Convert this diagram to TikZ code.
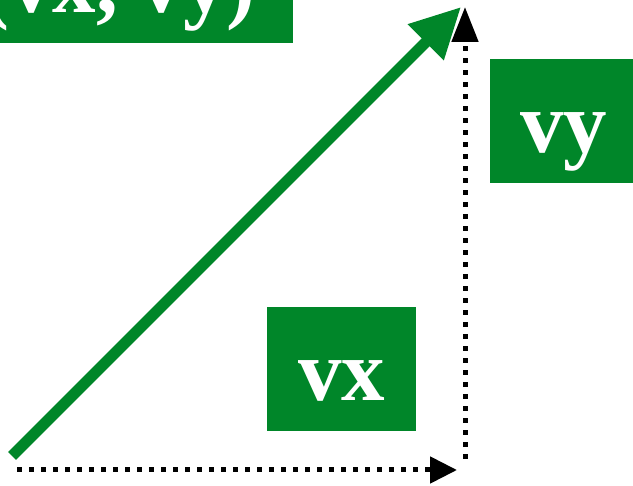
\documentclass[tikz,border=0pt]{standalone}
\usepackage{fontspec}
\setmainfont{Liberation Serif}
\usepackage{xcolor}
\usepackage{tikz}
\usetikzlibrary{arrows.meta}
\definecolor{vecgreen}{HTML}{008629}

\begin{document}
\begin{tikzpicture}[x=1pt, y=-1pt,
    labelbox/.style={fill=vecgreen, text=white, inner sep=0pt, anchor=base,
        font=\fontsize{87}{90}\selectfont\bfseries, text height=94pt, text depth=30pt},
    compline/.style={draw=black, line width=5pt, dash pattern=on 5pt off 7pt}]
    \useasboundingbox (0,0) rectangle (633,486);
    \clip (0,0) rectangle (633,486);

    % End points of the vector and its components
    \coordinate (origin) at (12,456);
    \coordinate (tip) at (461,7);
    \coordinate (xstart) at (17,470);
    \coordinate (xend) at (457,470);
    \coordinate (ystart) at (465,459);
    \coordinate (yend) at (465,7);

    % Component arrows
    \draw[compline, -{Triangle[length=27pt, width=26pt]}] (xstart) -- (xend);
    \draw[compline, -{Triangle[length=35pt, width=26pt]}] (ystart) -- (yend);

    % The vector itself
    \draw[vecgreen, line width=11pt, -{Triangle[length=50pt, width=48pt]}] (origin) -- (tip);

    % Labels
    \node[labelbox, minimum width=350pt] (vecbox) at (118,13) {(vx, vy)};
    \node[labelbox, minimum width=149pt] (vxbox) at (341.5,401) {vx};
    \node[labelbox, minimum width=147pt] (vybox) at (563.5,153) {vy};
\end{tikzpicture}
\end{document}
